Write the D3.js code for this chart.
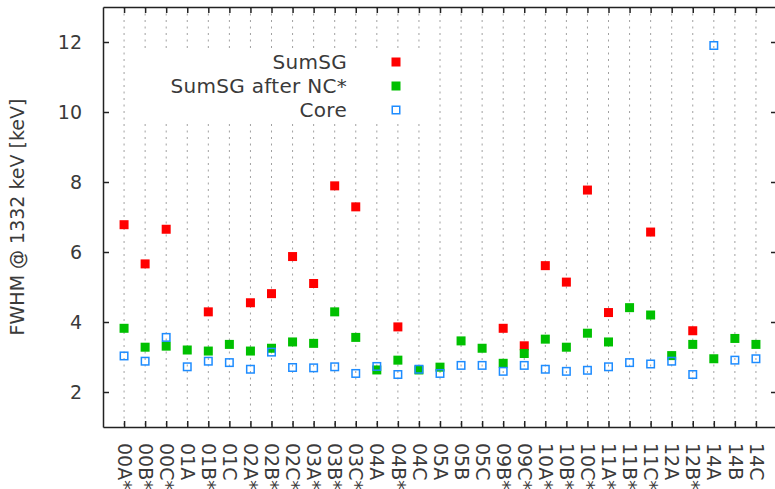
<!DOCTYPE html>
<html lang="en">
<head>
    <meta charset="UTF-8">
    <title>FWHM per detector</title>
    <script src="https://cdn.jsdelivr.net/npm/d3@7"></script>
    <style>
        body { margin: 0; background: #fff; }
        text { font-family: "DejaVu Sans", sans-serif; fill: #3a3a3a; }
    </style>
</head>
<body>
<svg></svg>
<script>
    // detector labels along x
    var detectors = ["00A*", "00B*", "00C*", "01A", "01B*", "01C", "02A*", "02B*", "02C*",
                     "03A*", "03B*", "03C*", "04A", "04B*", "04C", "05A", "05B", "05C",
                     "09B*", "09C*", "10A*", "10B*", "10C*", "11A*", "11B*", "11C*",
                     "12A", "12B*", "14A", "14B", "14C"]

    // FWHM values [keV], null = not measured
    var sumSG = [6.78, 5.66, 6.65, null, 4.29, null, 4.55, 4.81, 5.87,
                 5.10, 7.89, 7.29, null, 3.86, null, null, null, null,
                 3.82, 3.32, 5.61, 5.14, 7.77, 4.27, null, 6.57,
                 null, 3.75, null, null, null]

    var sumSGafterNC = [3.82, 3.28, 3.31, 3.20, 3.17, 3.36, 3.17, 3.25, 3.43,
                        3.39, 4.29, 3.56, 2.63, 2.91, 2.63, 2.71, 3.46, 3.25,
                        2.82, 3.10, 3.51, 3.28, 3.68, 3.43, 4.41, 4.20,
                        3.04, 3.36, 2.95, 3.53, 3.36]

    var core = [3.03, 2.88, 3.56, 2.72, 2.88, 2.84, 2.65, 3.14, 2.70,
                2.69, 2.72, 2.53, 2.73, 2.50, 2.65, 2.53, 2.76, 2.76,
                2.59, 2.76, 2.65, 2.59, 2.62, 2.72, 2.84, 2.80,
                2.88, 2.50, 11.90, 2.91, 2.95]

    var yTicks = [2, 4, 6, 8, 10, 12]

    var width = 775, height = 489
    var plotLeft = 103, plotRight = 777, plotTop = 7, plotBottom = 427

    var svg = d3.select("svg")
                .attr("width", width)
                .attr("height", height)

    var x = d3.scalePoint()
              .domain(detectors)
              .range([plotLeft, plotRight])
              .padding(1)

    var y = d3.scaleLinear()
              .domain([1, 13])
              .range([plotBottom, plotTop])

    // vertical dotted grid
    svg.append("g")
       .selectAll("line")
       .data(detectors)
       .join("line")
       .attr("x1", d => x(d))
       .attr("x2", d => x(d))
       .attr("y1", plotTop)
       .attr("y2", plotBottom)
       .attr("stroke", "#a0a0a0")
       .attr("stroke-width", 1)
       .attr("stroke-dasharray", "2,4.5")

    // opaque key box
    svg.append("rect")
       .attr("x", 133).attr("y", 49)
       .attr("width", 297).attr("height", 72)
       .attr("fill", "#fff")

    // axes
    var xAxis = svg.append("g")
                   .attr("transform", "translate(0," + plotBottom + ")")
                   .call(d3.axisBottom(x).tickSize(-6).tickSizeOuter(0))
    xAxis.selectAll("text")
         .attr("transform", "rotate(90)")
         .attr("x", 16)
         .attr("y", 0)
         .attr("dy", "0.36em")
         .attr("text-anchor", "start")

    svg.append("g")
       .attr("transform", "translate(0," + plotTop + ")")
       .call(d3.axisTop(x).tickSize(-6).tickSizeOuter(0).tickFormat(""))

    svg.append("g")
       .attr("transform", "translate(" + plotLeft + ",0)")
       .call(d3.axisLeft(y).tickValues(yTicks).tickSize(-6).tickSizeOuter(0).tickPadding(21))

    svg.append("g")
       .attr("transform", "translate(" + plotRight + ",0)")
       .call(d3.axisRight(y).tickValues(yTicks).tickSize(-6).tickSizeOuter(0).tickFormat(""))

    svg.selectAll(".domain").attr("stroke", "#222").attr("stroke-width", 1.5)
    svg.selectAll(".tick line").attr("stroke", "#222").attr("stroke-width", 1.5)
    svg.selectAll(".tick text").style("font-size", "19px").attr("fill", "#3a3a3a")

    // y label
    svg.append("text")
       .attr("transform", "translate(24," + (plotTop + plotBottom) / 2 + ") rotate(-90)")
       .attr("text-anchor", "middle")
       .style("font-size", "19px")
       .text("FWHM @ 1332 keV [keV]")

    // points
    function filled(data, color) {
        svg.append("g")
           .selectAll("rect")
           .data(data.map((v, i) => ({ d: detectors[i], v: v })).filter(p => p.v != null))
           .join("rect")
           .attr("x", p => x(p.d) - 4.5)
           .attr("y", p => y(p.v) - 4.5)
           .attr("width", 9)
           .attr("height", 9)
           .attr("fill", color)
    }
    filled(sumSG, "#ff0000")
    filled(sumSGafterNC, "#00c000")

    svg.append("g")
       .selectAll("rect")
       .data(core.map((v, i) => ({ d: detectors[i], v: v })))
       .join("rect")
       .attr("x", p => x(p.d) - 3.75)
       .attr("y", p => y(p.v) - 3.75)
       .attr("width", 7.5)
       .attr("height", 7.5)
       .attr("fill", "none")
       .attr("stroke", "#1e8cff")
       .attr("stroke-width", 1.5)

    // key
    var keyItems = [
        { name: "SumSG", color: "#ff0000", open: false },
        { name: "SumSG after NC*", color: "#00c000", open: false },
        { name: "Core", color: "#1e8cff", open: true }
    ]
    var key = svg.append("g")
    key.selectAll("text")
       .data(keyItems)
       .join("text")
       .attr("x", 347)
       .attr("y", (d, i) => 62 + i * 24)
       .attr("dy", "0.36em")
       .attr("text-anchor", "end")
       .style("font-size", "20px")
       .style("letter-spacing", "0.3px")
       .text(d => d.name)
    key.selectAll("rect")
       .data(keyItems)
       .join("rect")
       .attr("x", d => d.open ? 396 - 3.75 : 396 - 4.5)
       .attr("y", (d, i) => 62 + i * 24 - (d.open ? 3.75 : 4.5))
       .attr("width", d => d.open ? 7.5 : 9)
       .attr("height", d => d.open ? 7.5 : 9)
       .attr("fill", d => d.open ? "none" : d.color)
       .attr("stroke", d => d.open ? d.color : "none")
       .attr("stroke-width", 1.5)
</script>
</body>
</html>
